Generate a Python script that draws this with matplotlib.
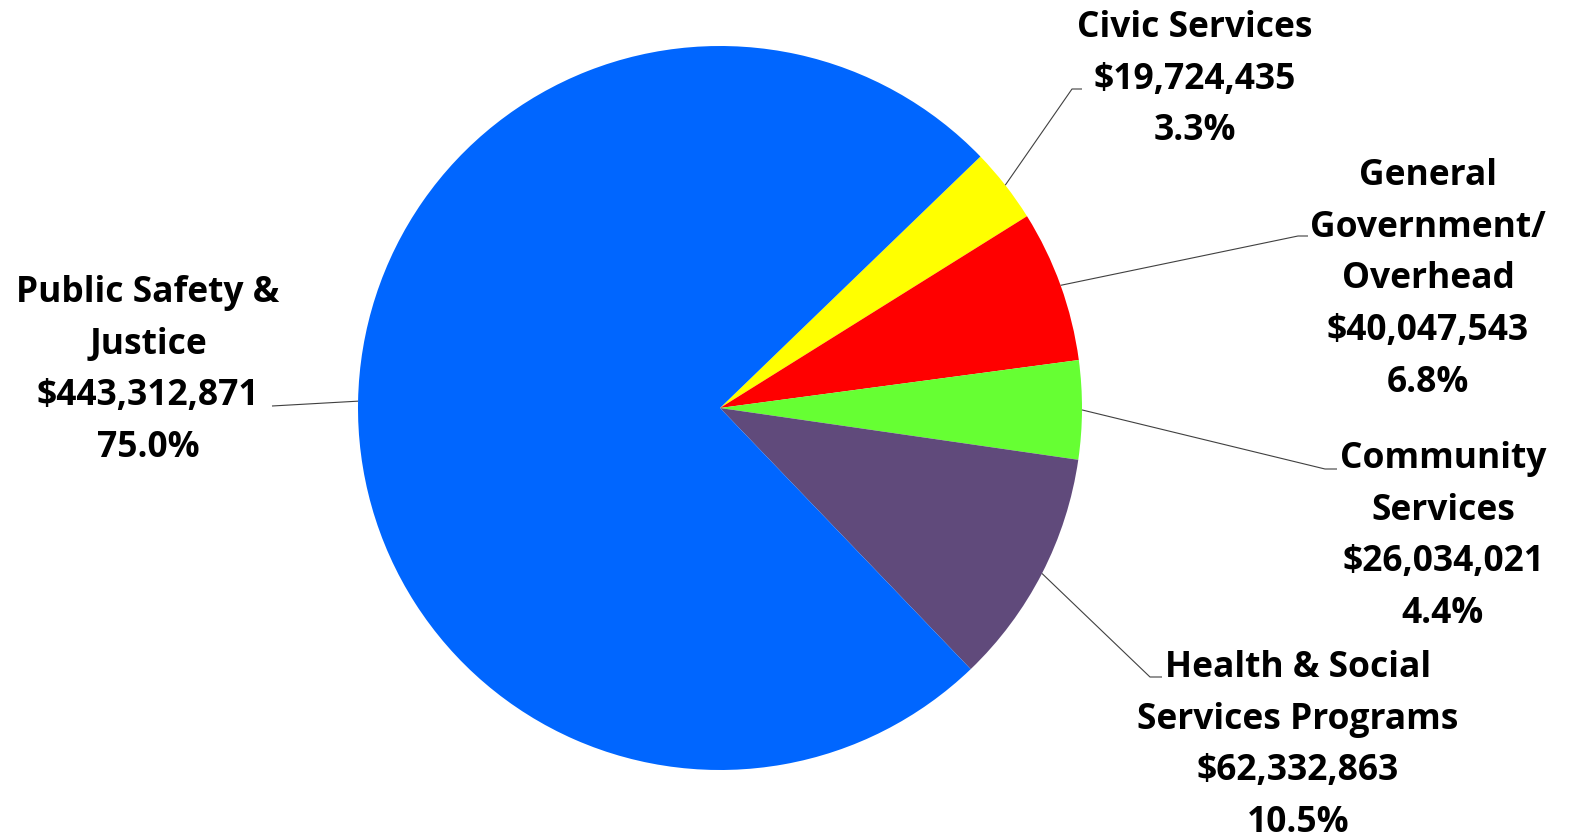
import matplotlib
matplotlib.use("Agg")
import matplotlib.pyplot as plt
import numpy as np

# ---- data ----
categories = ["Civic Services", "General\nGovernment/\nOverhead", "Community\nServices",
              "Health & Social\nServices Programs", "Public Safety &\nJustice"]
values = [19724435, 40047543, 26034021, 62332863, 443312871]
colors = ["#FFFF00", "#FF0000", "#66FF33", "#604A7B", "#0066FF"]

# ---- layout (pixel coords, y from top) ----
W, H = 1572, 838
center_px = (720, 408)
radius_px = 362
label_anchor = [(1195, 37), (1428, 185), (1443, 468), (1298, 677), (148, 302)]  # center x, first baseline
leader_elbow = [(1072, 89), (1298, 236), (1325, 469), (1150, 677), None]
leader_end = [(1082, 89), (1308, 236), (1337, 469), (1162, 677), (272, 406)]
line_pitch = 51.7
font = dict(family=["Open Sans", "DejaVu Sans"], weight="bold", size=25.5, color="black")

fig = plt.figure(figsize=(W / 100, H / 100), dpi=100)
ax = fig.add_axes([0, 0, 1, 1])
wedges, _ = ax.pie(values, colors=colors, startangle=44, counterclock=False,
                   center=(center_px[0], H - center_px[1]), radius=radius_px,
                   wedgeprops=dict(linewidth=0))
ax.set_xlim(0, W)
ax.set_ylim(0, H)
ax.set_aspect("equal")
ax.axis("off")

total = sum(values)
cx, cy = center_px[0], H - center_px[1]
for i, w in enumerate(wedges):
    mid = np.deg2rad((w.theta1 + w.theta2) / 2)
    sx, sy = cx + radius_px * np.cos(mid), cy + radius_px * np.sin(mid)
    pts = [(sx, sy)]
    if leader_elbow[i] is not None:
        pts.append((leader_elbow[i][0], H - leader_elbow[i][1]))
    pts.append((leader_end[i][0], H - leader_end[i][1]))
    xs, ys = zip(*pts)
    ax.plot(xs, ys, color="#404040", lw=0.8, solid_capstyle="butt")

    lines = categories[i].split("\n") + [f"${values[i]:,}", f"{values[i] / total * 100:.1f}%"]
    ax_x, by = label_anchor[i]
    for k, t in enumerate(lines):
        ax.text(ax_x, H - (by + k * line_pitch), t, ha="center", va="baseline", **font)

fig.savefig("out.png", dpi=100)
